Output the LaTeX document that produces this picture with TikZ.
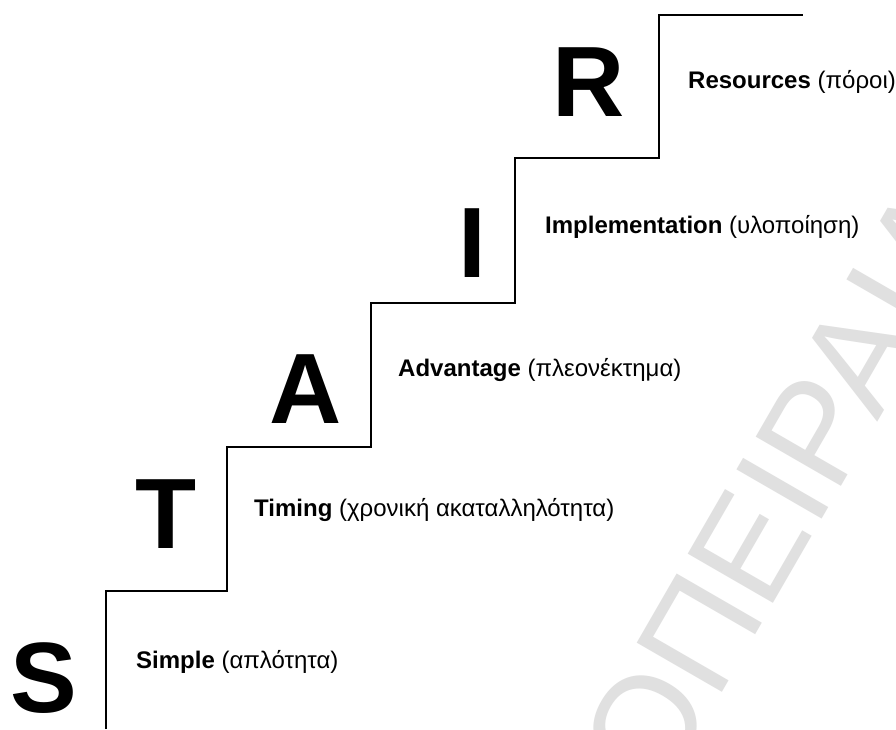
\documentclass[tikz,border=0pt]{standalone}
\usepackage{fontspec}
\setmainfont{Liberation Sans}
\definecolor{wmgray}{HTML}{E0E0E0}
\begin{document}
\begin{tikzpicture}[x=1pt,y=-1pt,
  bigletter/.style={anchor=base,inner sep=0pt,font=\fontsize{100}{100}\selectfont\bfseries},
  steplabel/.style={anchor=base west,inner sep=0pt,font=\fontsize{24}{28}\selectfont},
  stairline/.style={line width=1.7pt,black,line join=miter},
  watermark/.style={anchor=base west,inner sep=0pt,text=wmgray,font=\fontsize{143}{143}\selectfont}]
\useasboundingbox (0,0) rectangle (896,729);
\fill[white] (0,0) rectangle (896,729);
\begin{scope}
\clip (0,0) rectangle (896,729);
% watermark running up to the right
\coordinate (wm) at (716,703);
\node[watermark,rotate=60] (wmR) at (wm) {ΠΕΙΡΑΙΑ};
\node[watermark,anchor=base east,rotate=60] (wmL) at (wm) {ΠΑΝΕΠΙΣΤΗΜΙΟ };
\end{scope}
% the staircase
\draw[stairline] (106,729) -- (106,591) -- (227,591) -- (227,447) -- (371,447)
  -- (371,303) -- (515,303) -- (515,158) -- (659,158) -- (659,15) -- (803,15);
% large initials
\node[bigletter] (S) at (44,712) {S};
\node[bigletter] (T) at (166,548) {T};
\node[bigletter] (A) at (306,423) {A};
\node[bigletter] (I) at (472,277) {I};
\node[bigletter] (R) at (589,116) {R};
% labels on each step
\node[steplabel] (lS) at (136,668) {\textbf{Simple} (απλότητα)};
\node[steplabel] (lT) at (254,516) {\textbf{Timing} (χρονική ακαταλληλότητα)};
\node[steplabel] (lA) at (398,376) {\textbf{Advantage} (πλεονέκτημα)};
\node[steplabel] (lI) at (545,233) {\textbf{Implementation} (υλοποίηση)};
\node[steplabel] (lR) at (688,88) {\textbf{Resources} (πόροι)};
\end{tikzpicture}
\end{document}
